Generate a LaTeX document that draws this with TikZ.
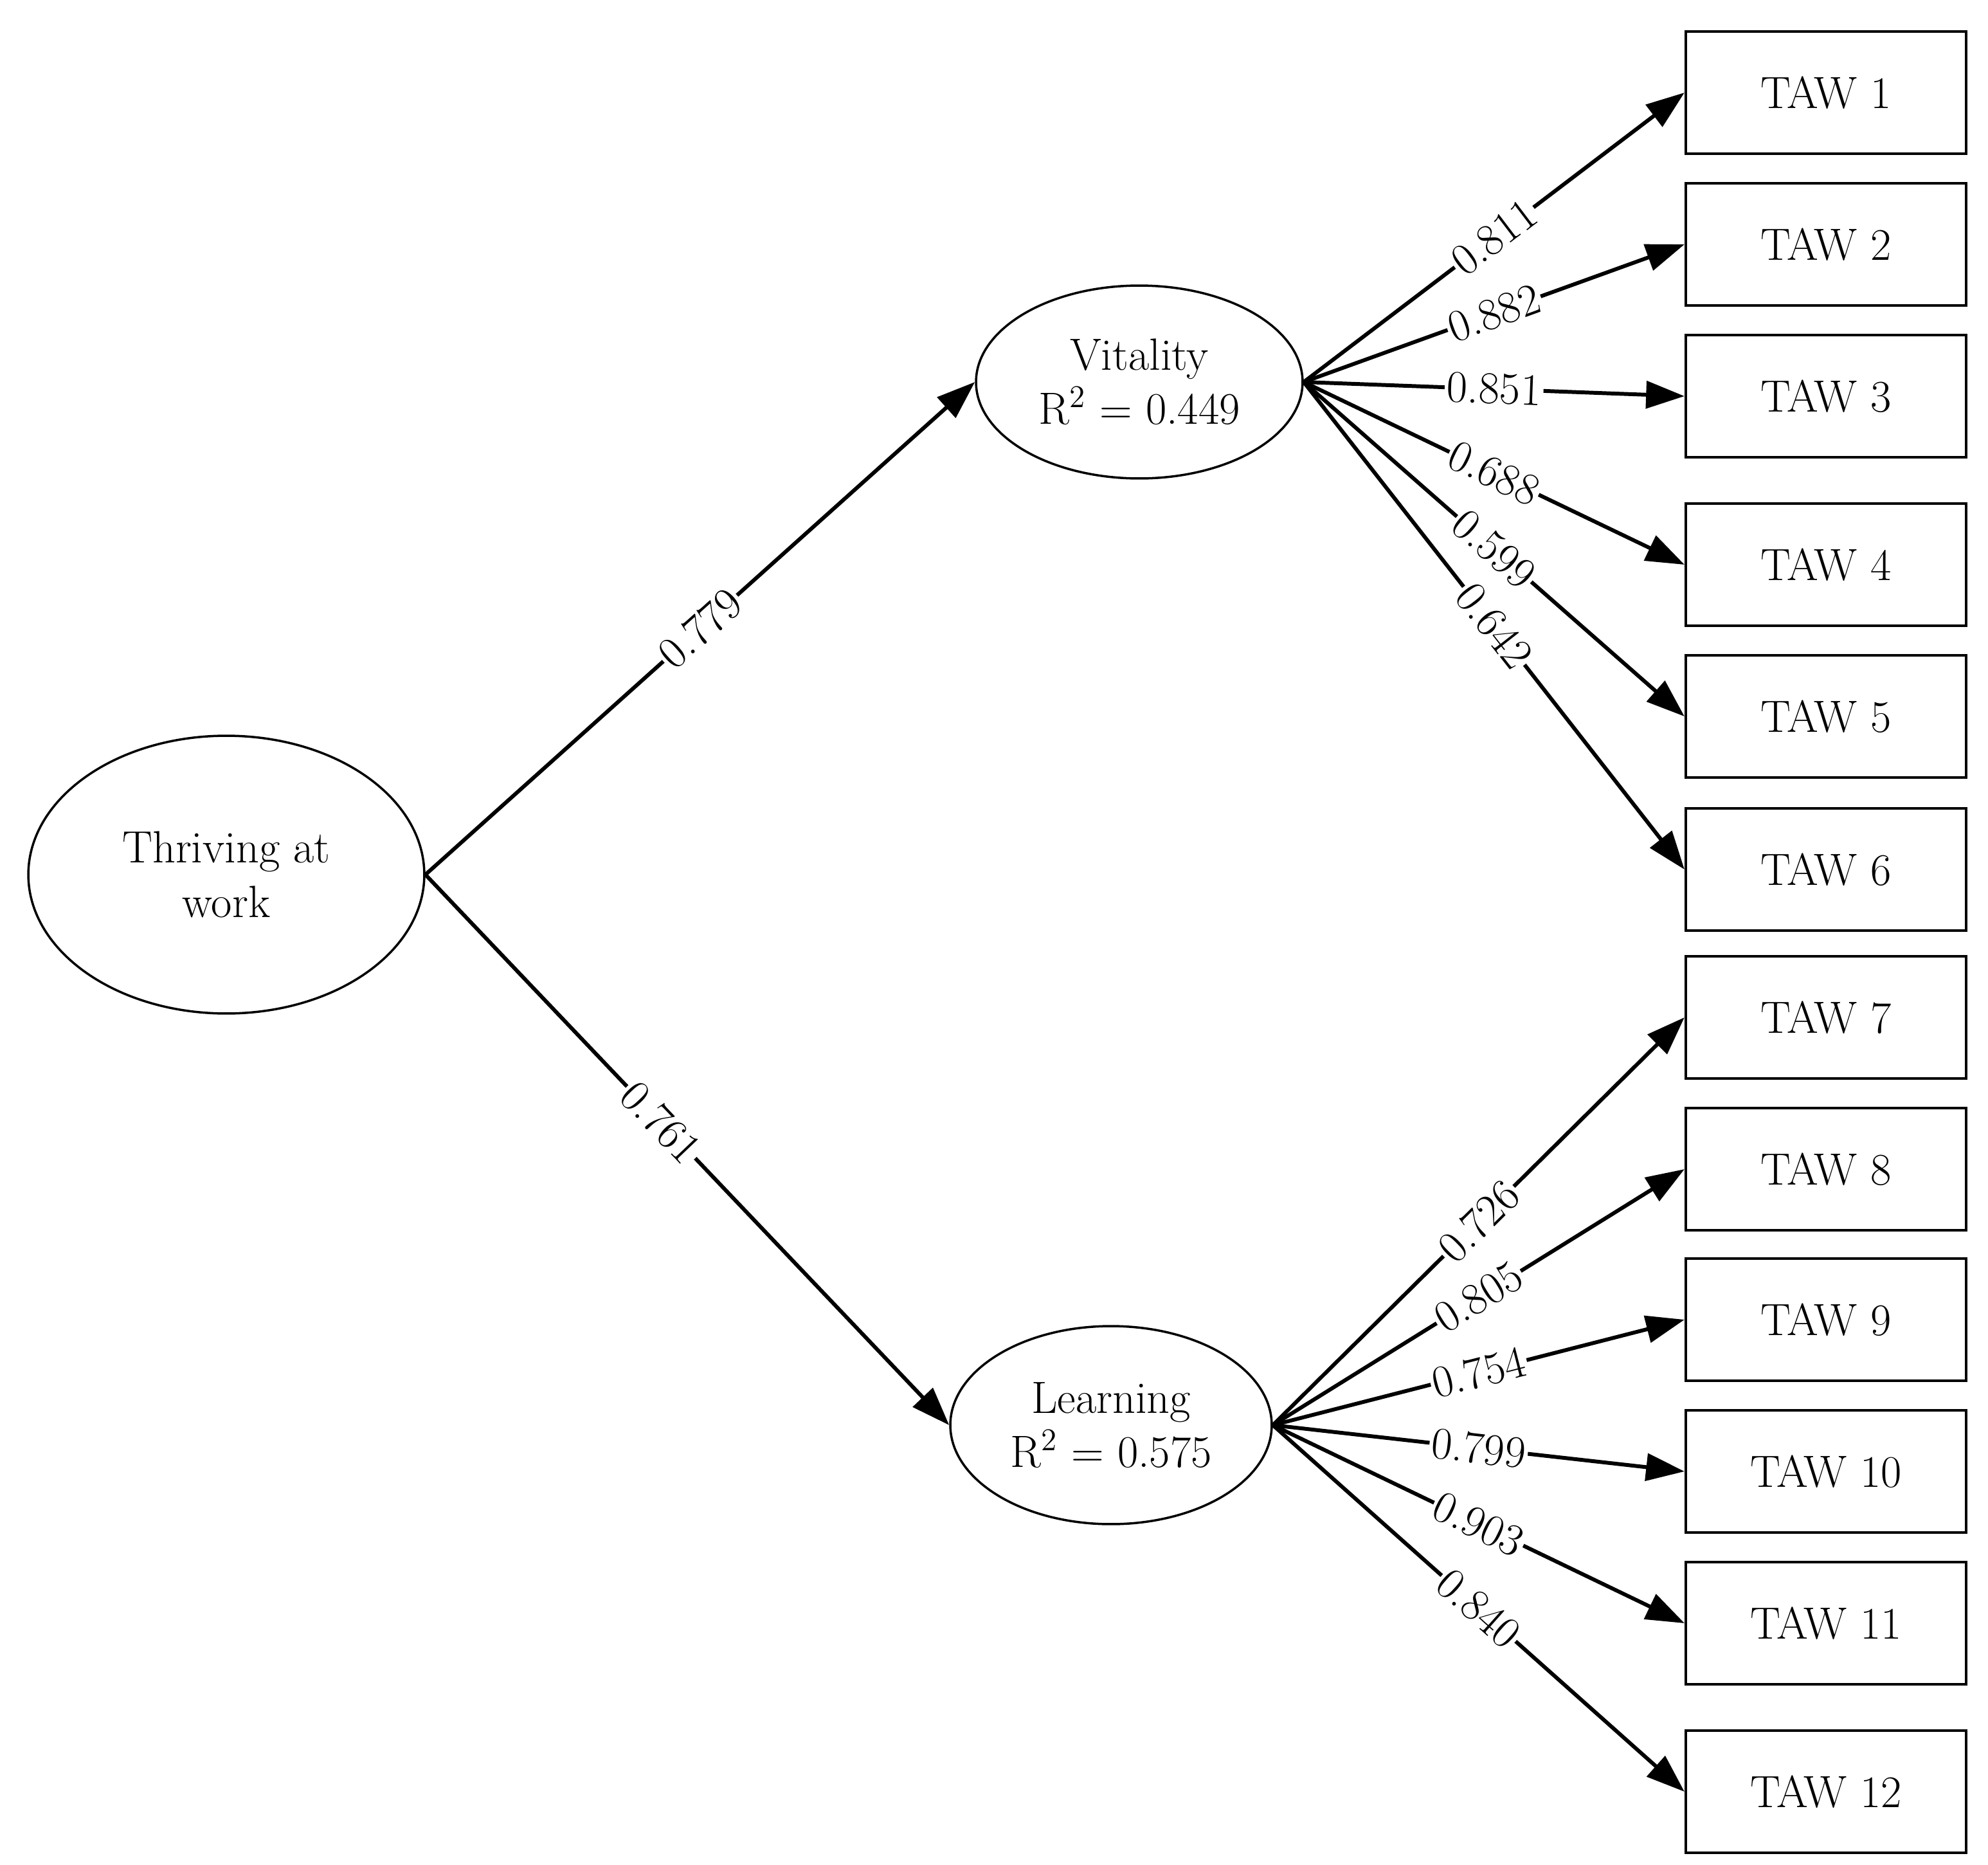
\documentclass[tikz,border=0pt]{standalone}
\usetikzlibrary{shapes.geometric,arrows.meta}
\begin{document}
\begin{tikzpicture}[x=0.02cm,y=-0.02cm,
  every node/.style={font=\fontsize{20}{24}\selectfont},
  lat/.style={draw,line width=1pt,ellipse,align=center,inner sep=0pt},
  box/.style={draw,line width=1.2pt,minimum width=4.36cm,minimum height=1.9cm,inner sep=0pt},
  arr/.style={line width=1.7pt,-{Triangle[length=17pt,width=12pt]}},
  lab/.style={sloped,fill=white,inner sep=1pt,pos=0.5}]
\useasboundingbox (0,0) rectangle (1546,1450);
\node[lat,minimum width=6.16cm,minimum height=4.32cm] (t) at (176,680) {Thriving at\\work};
\node[lat,minimum width=5.08cm,minimum height=3.0cm] (v) at (886,297) {Vitality\\R\textsuperscript{2} = 0.449};
\node[lat,minimum width=5.0cm,minimum height=3.08cm] (l) at (864,1108) {Learning\\R\textsuperscript{2} = 0.575};
\foreach \i/\y in {1/72,2/190,3/308,4/439,5/557,6/676,7/791,8/909,9/1026,10/1144,11/1262,12/1393}
  \node[box] (b\i) at (1420,\y) {TAW \i};
\draw[arr] (t.east) -- node[lab]{0.779} (v.west);
\draw[arr] (t.east) -- node[lab,pos=0.45]{0.761} (l.west);
\foreach \i/\w in {1/0.811,2/0.882,3/0.851,4/0.688,5/0.599,6/0.642}
  \draw[arr] (v.east) -- node[lab]{\w} (b\i.west);
\foreach \i/\w in {7/0.726,8/0.805,9/0.754,10/0.799,11/0.903,12/0.840}
  \draw[arr] (l.east) -- node[lab]{\w} (b\i.west);
\end{tikzpicture}
\end{document}
